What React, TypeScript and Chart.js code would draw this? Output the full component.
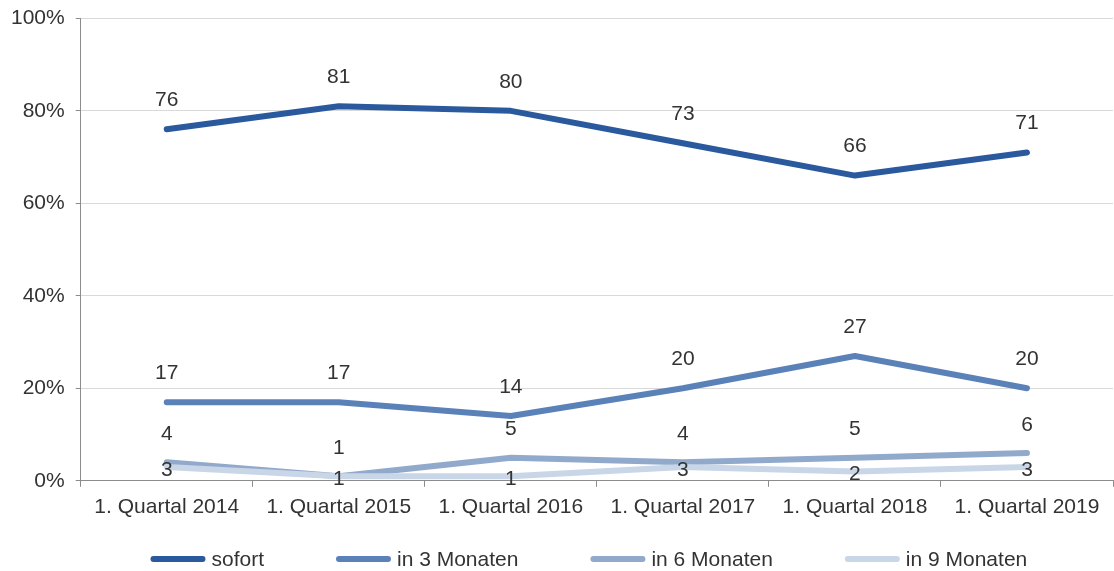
import React, { useEffect, useRef } from "react";
import { Chart, registerables } from "chart.js";

Chart.register(...registerables);

const categories = [
  "1. Quartal 2014",
  "1. Quartal 2015",
  "1. Quartal 2016",
  "1. Quartal 2017",
  "1. Quartal 2018",
  "1. Quartal 2019",
];
const sofort = [76, 81, 80, 73, 66, 71];
const in3Monaten = [17, 17, 14, 20, 27, 20];
const in6Monaten = [4, 1, 5, 4, 5, 6];
const in9Monaten = [3, 1, 1, 3, 2, 3];
const seriesNames = ["sofort", "in 3 Monaten", "in 6 Monaten", "in 9 Monaten"];
const yMin = 0;
const yMax = 100;
const yStep = 20;

const colors = ["#2A5A9D", "#5B82B8", "#91AACB", "#C9D6E7"];
const labelOffsets = [-29, -29, -28, 3];
const FONT_FAMILY = "'Liberation Sans', Arial, sans-serif";
const FONT_SIZE = 21;
const TEXT = "#333333";
const AXIS = "#8C8C8C";
const GRID = "#D9D9D9";

const dataLabelPlugin = {
  id: "dataLabels",
  afterDatasetsDraw(chart: any) {
    const ctx = chart.ctx;
    ctx.save();
    ctx.font = `${FONT_SIZE}px ${FONT_FAMILY}`;
    ctx.fillStyle = TEXT;
    ctx.textAlign = "center";
    ctx.textBaseline = "middle";
    chart.data.datasets.forEach((ds: any, i: number) => {
      const meta = chart.getDatasetMeta(i);
      meta.data.forEach((pt: any, j: number) => {
        ctx.fillText(String(ds.data[j]), pt.x, pt.y + labelOffsets[i]);
      });
    });
    ctx.restore();
  },
};

const legendPlugin = {
  id: "customLegend",
  afterDraw(chart: any) {
    const ctx = chart.ctx;
    const area = chart.chartArea;
    ctx.save();
    ctx.font = `${FONT_SIZE}px ${FONT_FAMILY}`;
    ctx.textBaseline = "middle";
    ctx.textAlign = "left";
    const lineLen = 49;
    const cap = 3;
    const gap = 6;
    const spacing = 72;
    const items = chart.data.datasets.map((ds: any) => ({
      label: ds.label,
      color: ds.borderColor,
      w: ctx.measureText(ds.label).width,
    }));
    let total = 0;
    items.forEach((it: any, i: number) => {
      total += lineLen + 2 * cap + gap + it.w + (i < items.length - 1 ? spacing : 0);
    });
    let x = (area.left + area.right) / 2 - total / 2 - 8;
    const y = 559;
    items.forEach((it: any) => {
      ctx.strokeStyle = it.color;
      ctx.lineWidth = 6;
      ctx.lineCap = "round";
      ctx.beginPath();
      ctx.moveTo(x + cap, y);
      ctx.lineTo(x + cap + lineLen, y);
      ctx.stroke();
      ctx.fillStyle = TEXT;
      ctx.fillText(it.label, x + 2 * cap + lineLen + gap, y + 1);
      x += lineLen + 2 * cap + gap + it.w + spacing;
    });
    ctx.restore();
  },
};

export default function App() {
  const ref = useRef<HTMLCanvasElement | null>(null);
  useEffect(() => {
    document.body.style.margin = "0";
    if (!ref.current) return;
    const values = [sofort, in3Monaten, in6Monaten, in9Monaten];
    const chart = new Chart(ref.current, {
      type: "line",
      data: {
        labels: categories,
        datasets: values.map((d, i) => ({
          label: seriesNames[i],
          data: d,
          borderColor: colors[i],
          backgroundColor: colors[i],
          borderWidth: 6,
          borderCapStyle: "round",
          borderJoinStyle: "round",
          pointRadius: 0,
          pointHoverRadius: 0,
          tension: 0,
          fill: false,
          order: values.length - i,
        })),
      },
      options: {
        responsive: false,
        animation: false,
        maintainAspectRatio: false,
        layout: { padding: { top: 0, left: 0, right: 1, bottom: 43 } },
        plugins: {
          legend: { display: false },
          tooltip: { enabled: false },
        },
        scales: {
          x: {
            offset: true,
            grid: {
              offset: true,
              drawOnChartArea: false,
              drawTicks: true,
              tickLength: 6,
              color: AXIS,
            },
            border: { color: AXIS, width: 1 },
            ticks: {
              color: TEXT,
              font: { family: FONT_FAMILY, size: FONT_SIZE },
              padding: 8,
              maxRotation: 0,
              autoSkip: false,
            },
          },
          y: {
            min: yMin,
            max: yMax,
            grid: {
              color: (c: any) => (c.tick && c.tick.value === 0 ? AXIS : GRID),
              tickColor: AXIS,
              tickLength: 5,
              lineWidth: 1,
            },
            border: { color: AXIS, width: 1 },
            ticks: {
              stepSize: yStep,
              color: TEXT,
              font: { family: FONT_FAMILY, size: FONT_SIZE, lineHeight: 0.7 },
              padding: 11,
              callback: (v: any) => `${v}%`,
            },
          },
        },
      },
      plugins: [dataLabelPlugin, legendPlugin],
    });
    return () => chart.destroy();
  }, []);
  return (
    <div style={{ width: 1114, height: 571 }}>
      <canvas ref={ref} width={1114} height={571} />
    </div>
  );
}
